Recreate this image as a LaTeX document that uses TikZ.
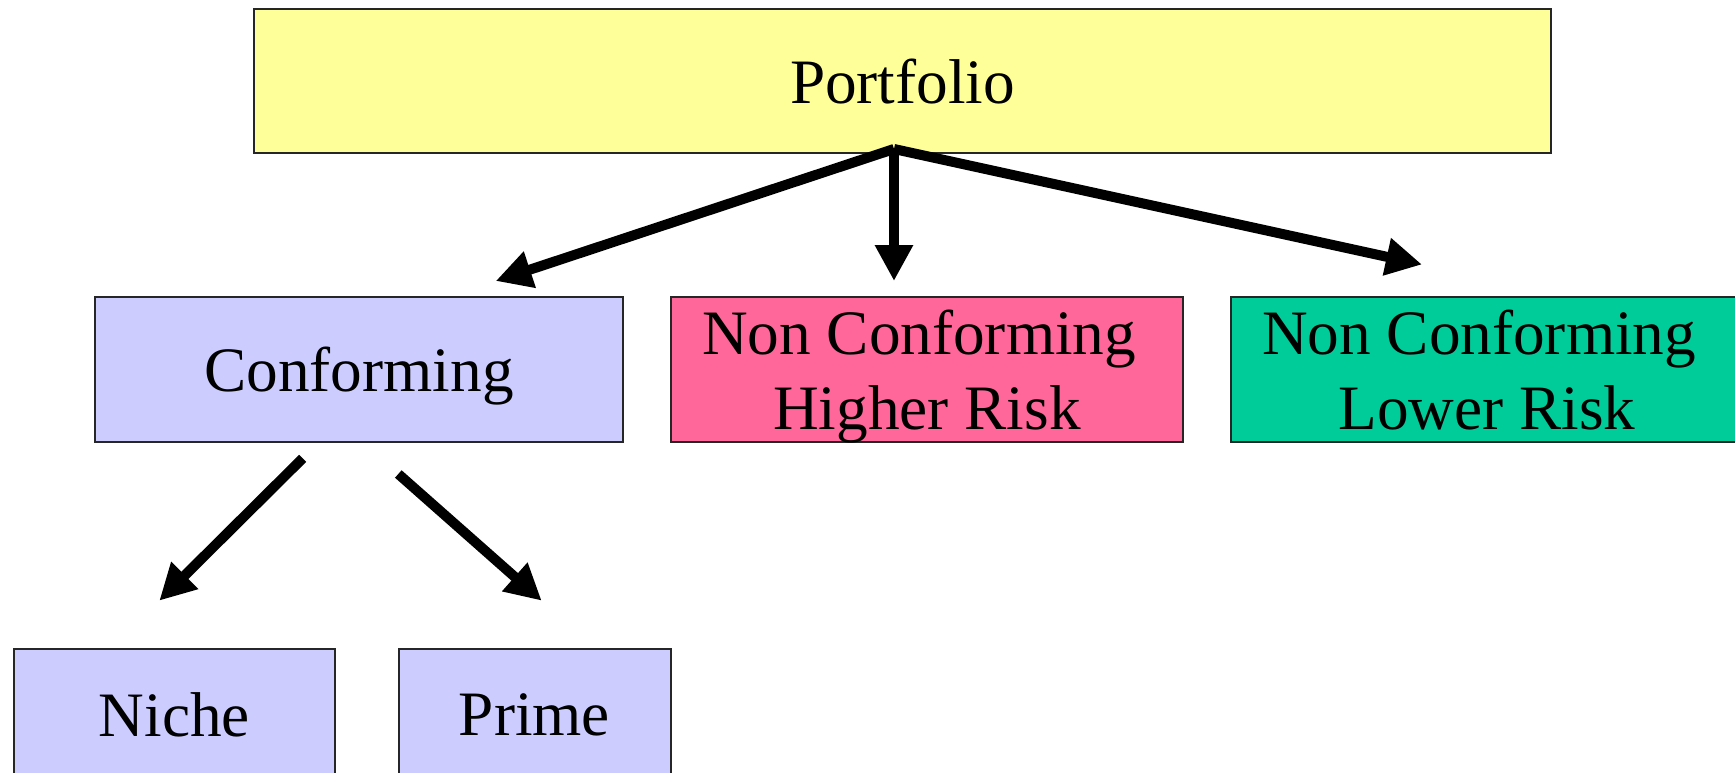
\documentclass[tikz,border=0pt]{standalone}
\usepackage{fontspec}
\setmainfont{Liberation Serif}
\usetikzlibrary{arrows.meta}
\definecolor{topbox}{HTML}{FFFF99}
\definecolor{confbox}{HTML}{CCCCFF}
\definecolor{hirisk}{HTML}{FF6699}
\definecolor{lorisk}{HTML}{00CC99}

\begin{document}
\begin{tikzpicture}[x=0.1mm,y=-0.1mm,line join=miter,
  box/.style={draw=black!85,line width=0.2mm,inner sep=0pt,align=center,
    text depth=0pt,font=\fontsize{18}{21.3}\selectfont},
  link/.style={line width=1mm,-{Triangle[length=3.6mm,width=3.6mm]}}]
  \useasboundingbox (0,0) rectangle (1735,773);

  % Whole portfolio at the top.
  \node[box,fill=topbox,minimum width=129.7mm,minimum height=14.4mm] (portfolio) at (902.5,81) {Portfolio};

  % Three segments.
  \node[box,fill=confbox,minimum width=52.8mm,minimum height=14.5mm] (conf) at (359,369.5) {Conforming};
  \node[box,fill=hirisk,minimum width=51.2mm,minimum height=14.5mm] (hirisk) at (927,369.5) {Non Conforming\kern.25em\\Higher Risk};
  \node[box,fill=lorisk,minimum width=51.2mm,minimum height=14.5mm] (lorisk) at (1487,369.5) {Non Conforming\kern.25em\\Lower Risk};

  % Conforming split.
  \node[box,fill=confbox,minimum width=32.1mm,minimum height=13.2mm] (niche) at (174.5,715) {Niche};
  \node[box,fill=confbox,minimum width=27.2mm,minimum height=13.2mm] (prime) at (534.5,715) {Prime};

  % Arrow ends, kept clear of the boxes.
  \coordinate (fork) at (894,149);
  \coordinate (conftip) at (495.7,281);
  \coordinate (hitip) at (894,281);
  \coordinate (lotip) at (1422,264.5);
  \coordinate (nichetail) at (302.7,458.3);
  \coordinate (nichetip) at (159.3,600.7);
  \coordinate (primetail) at (398.3,474);
  \coordinate (primetip) at (541.7,600.7);

  \draw[link] (fork) -- (conftip);
  \draw[link] (fork) -- (hitip);
  \draw[link] (fork) -- (lotip);
  \draw[link] (nichetail) -- (nichetip);
  \draw[link] (primetail) -- (primetip);
\end{tikzpicture}
\end{document}
